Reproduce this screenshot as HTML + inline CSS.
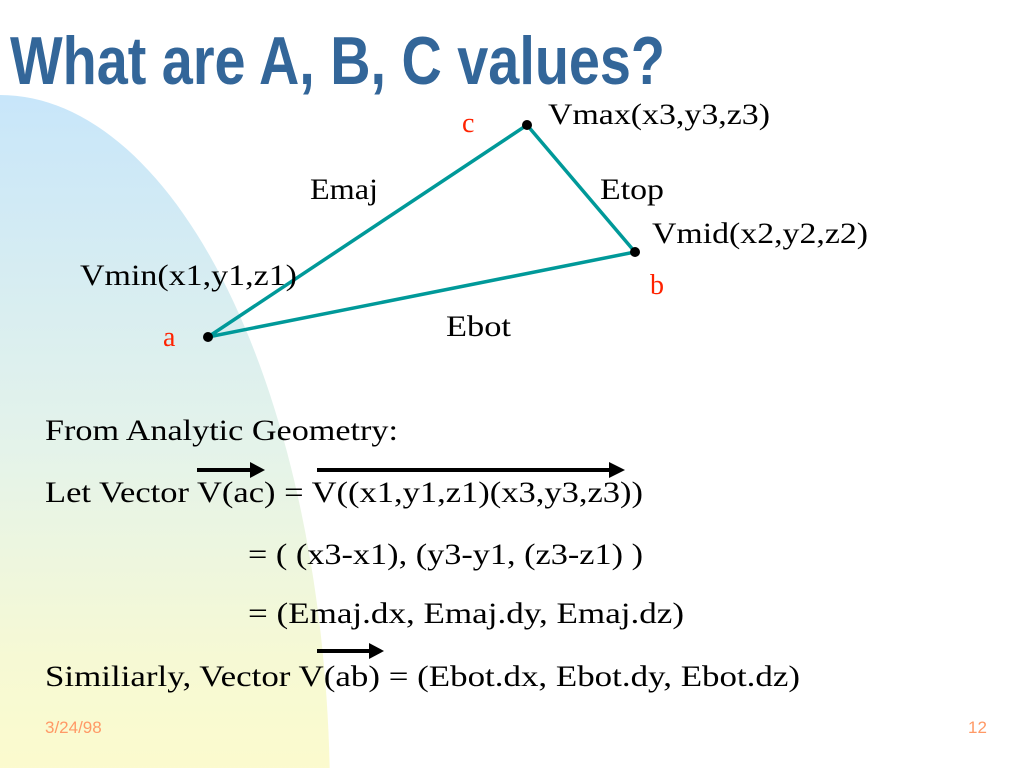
<!DOCTYPE html>
<html><head><meta charset="utf-8"><style>
body{margin:0;width:1024px;height:768px;overflow:hidden;background:#fff}
</style></head><body>
<svg width="1024" height="768" viewBox="0 0 1024 768" xmlns="http://www.w3.org/2000/svg">
<defs>
<linearGradient id="g" x1="0" y1="0" x2="0" y2="1">
<stop offset="0" stop-color="#c8e6fa"/>
<stop offset="0.5" stop-color="#e4f3ea"/>
<stop offset="0.8" stop-color="#f6f9d4"/>
<stop offset="1" stop-color="#fdfbcc"/>
</linearGradient>
</defs>
<path d="M0,95 A330,705 0 0 1 330,800 L0,800 Z" fill="url(#g)"/>
<text x="10" y="84" font-family="Liberation Sans, sans-serif" font-weight="bold" font-size="68" fill="#336699" textLength="655" lengthAdjust="spacingAndGlyphs">What are A, B, C values?</text>
<g stroke="#009999" stroke-width="3.5" fill="none">
<polyline points="208,337 527,125 635,252 208,337"/>
</g>
<g fill="#000"><circle cx="208" cy="337" r="5"/><circle cx="527" cy="125" r="5"/><circle cx="635" cy="252" r="5"/></g>
<g font-family="Liberation Serif, serif" font-size="30" xml:space="preserve">
<text x="462" y="132" fill="#ff2200" font-size="28">c</text>
<text x="650" y="294" fill="#ff2200" font-size="28">b</text>
<text x="163" y="346" fill="#ff2200" font-size="28">a</text>
<text x="548" y="124" fill="#000" textLength="222" lengthAdjust="spacingAndGlyphs">Vmax(x3,y3,z3)</text>
<text x="310" y="199" fill="#000" textLength="68" lengthAdjust="spacingAndGlyphs">Emaj</text>
<text x="600" y="199" fill="#000" textLength="64" lengthAdjust="spacingAndGlyphs">Etop</text>
<text x="652" y="243" fill="#000" textLength="216" lengthAdjust="spacingAndGlyphs">Vmid(x2,y2,z2)</text>
<text x="80" y="285" fill="#000" textLength="217" lengthAdjust="spacingAndGlyphs">Vmin(x1,y1,z1)</text>
<text x="446" y="336" fill="#000" textLength="65" lengthAdjust="spacingAndGlyphs">Ebot</text>
<text x="45" y="440" textLength="353" lengthAdjust="spacingAndGlyphs">From Analytic Geometry:</text>
<text x="45" y="502" textLength="598" lengthAdjust="spacingAndGlyphs">Let Vector V(ac) = V((x1,y1,z1)(x3,y3,z3))</text>
<text x="248" y="564" textLength="395" lengthAdjust="spacingAndGlyphs">= ( (x3-x1), (y3-y1, (z3-z1) )</text>
<text x="248" y="623" textLength="436" lengthAdjust="spacingAndGlyphs">=  (Emaj.dx, Emaj.dy, Emaj.dz)</text>
<text x="45" y="686" textLength="755" lengthAdjust="spacingAndGlyphs">Similiarly,  Vector V(ab) = (Ebot.dx, Ebot.dy, Ebot.dz)</text>
</g>
<g fill="#000">
<rect x="197" y="468" width="55" height="4"/><polygon points="250,462 265,470 250,478"/>
<rect x="317" y="468" width="295" height="4"/><polygon points="609,462 625,470 609,478"/>
<rect x="317" y="649" width="55" height="4"/><polygon points="369,643 384,651 369,659"/>
</g>
<g font-family="Liberation Sans, sans-serif" font-size="17" fill="#ff9966">
<text x="45" y="733">3/24/98</text>
<text x="968" y="733">12</text>
</g>
</svg>
</body></html>
